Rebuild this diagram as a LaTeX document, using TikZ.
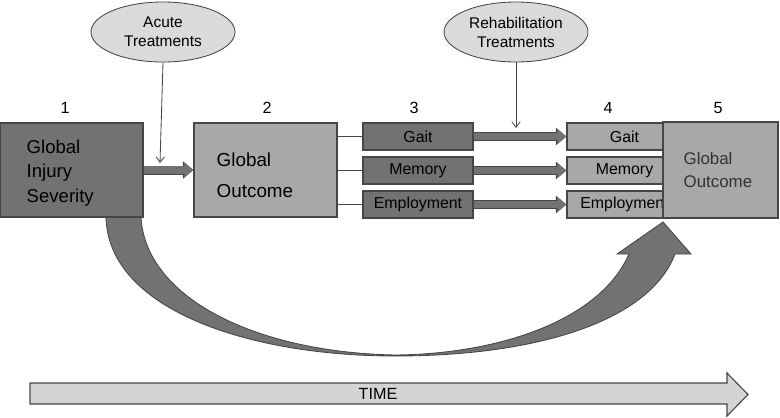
\documentclass[tikz,border=0pt]{standalone}
\usepackage{fontspec}
\setmainfont{Liberation Sans}
\usetikzlibrary{arrows.meta}
\usetikzlibrary{shapes}

\definecolor{darkfill}{HTML}{727272}
\definecolor{lightfill}{HTML}{A8A8A8}
\definecolor{ovalfill}{HTML}{DADADA}
\definecolor{timefill}{HTML}{D4D4D4}
\definecolor{edge}{HTML}{464646}

\tikzset{
  darkbox/.style={rectangle, draw=edge, fill=darkfill, line width=0.8pt, inner sep=0pt},
  lightbox/.style={rectangle, draw=edge, fill=lightfill, line width=0.8pt, inner sep=0pt},
  smallbox/.style={minimum height=0.675cm, font=\fontsize{11.3}{13}\selectfont},
  bigtext/.style={anchor=north west, inner sep=0pt, align=left},
  treat/.style={ellipse, draw=edge, fill=ovalfill, line width=0.6pt,
    minimum width=3.6cm, minimum height=1.5cm, inner sep=0pt, align=center,
    font=\fontsize{11}{13.5}\selectfont},
  stage/.style={inner sep=0pt, font=\fontsize{11.5}{13}\selectfont},
  fatarrow/.style={line width=5pt, draw=darkfill, -{Triangle[length=6.5pt,width=10pt]},
    preaction={draw=edge, line width=6.4pt, -{Triangle[length=7.5pt,width=12pt]}}},
  thinarrow/.style={draw=edge, line width=0.6pt, -{Straight Barb[length=4pt,width=6pt]}},
  tie/.style={draw=edge, line width=0.6pt}
}

\begin{document}
\begin{tikzpicture}[x=0.025cm, y=-0.025cm]
\useasboundingbox (0,0) rectangle (780,417);

% treatments
\node [treat] (acute) at (163,32) {Acute\\Treatments};
\node [treat] (rehab) at (516,32) {Rehabilitation\\Treatments};

% stage numbers
\node [stage] (n1) at (65,108) {1};
\node [stage] (n2) at (267,108) {2};
\node [stage] (n3) at (414,108) {3};
\node [stage] (n4) at (608,108) {4};
\node [stage] (n5) at (718,108) {5};

% big sweep from 1 to 5
\draw [fill=darkfill, draw=edge, line width=0.6pt]
  (106,217) .. controls (108,310) and (250,356) .. (395,356)
  .. controls (540,356) and (650,320) .. (675,254)
  -- (691,254) -- (663,222) -- (617,254) -- (629,254)
  .. controls (600,320) and (500,354) .. (395,355)
  .. controls (250,352) and (145,295) .. (141,217) -- cycle;

% boxes
\node [darkbox, minimum width=3.575cm, minimum height=2.35cm]
       (severity) at (71.5,170) {};
\node [lightbox, minimum width=3.575cm, minimum height=2.35cm]
       (outcomeA) at (265.5,170) {};

\node [darkbox, smallbox, minimum width=2.75cm] (gaitA) at (418,136.5) {Gait};
\node [darkbox, smallbox, minimum width=2.75cm] (memA) at (418,170.5) {Memory};
\node [darkbox, smallbox, minimum width=2.75cm] (empA) at (418,204.5) {Employment};

\node [lightbox, smallbox, minimum width=2.875cm] (gaitB) at (624.5,136.5) {Gait};
\node [lightbox, smallbox, minimum width=2.875cm] (memB) at (624.5,170.5) {Memory};
\node [lightbox, smallbox, minimum width=2.875cm] (empB) at (624.5,204.5) {Employment};

\node [lightbox, minimum width=2.875cm, minimum height=2.4cm]
       (outcomeB) at (720.5,170) {};

% box texts
\node [bigtext, font=\fontsize{13.2}{17.4}\selectfont]
       (severitytext) at ([shift={(27,17)}]severity.north west) {Global\\Injury\\Severity};
\node [bigtext, font=\fontsize{13.4}{22}\selectfont]
       (outcomeAtext) at ([shift={(23,30.5)}]outcomeA.north west) {Global\\Outcome};
\node [bigtext, text=black!80, font=\fontsize{12}{16}\selectfont]
       (outcomeBtext) at ([shift={(21,31)}]outcomeB.north west) {Global\\Outcome};

% connectors
\draw [fatarrow] (severity.east) -- (outcomeA.west);
\draw [tie] (outcomeA.east |- gaitA.west) -- (gaitA.west);
\draw [tie] (outcomeA.east |- memA.west) -- (memA.west);
\draw [tie] (outcomeA.east |- empA.west) -- (empA.west);
\draw [fatarrow] (gaitA.east) -- (gaitB.west);
\draw [fatarrow] (memA.east) -- (memB.west);
\draw [fatarrow] (empA.east) -- (empB.west);

\coordinate (acutehit) at (160,163);
\coordinate (rehabhit) at (516,128);
\draw [thinarrow] (acute.south) -- (acutehit);
\draw [thinarrow] (rehab.south) -- (rehabhit);

% time line
\draw [fill=timefill, draw=edge, line width=0.8pt]
  (30,383) -- (727,383) -- (727,373) -- (748,394.5) -- (727,416) -- (727,404) -- (30,404) -- cycle;
\node [font=\fontsize{11.5}{13}\selectfont] (time) at (378,394) {TIME};
\end{tikzpicture}
\end{document}
